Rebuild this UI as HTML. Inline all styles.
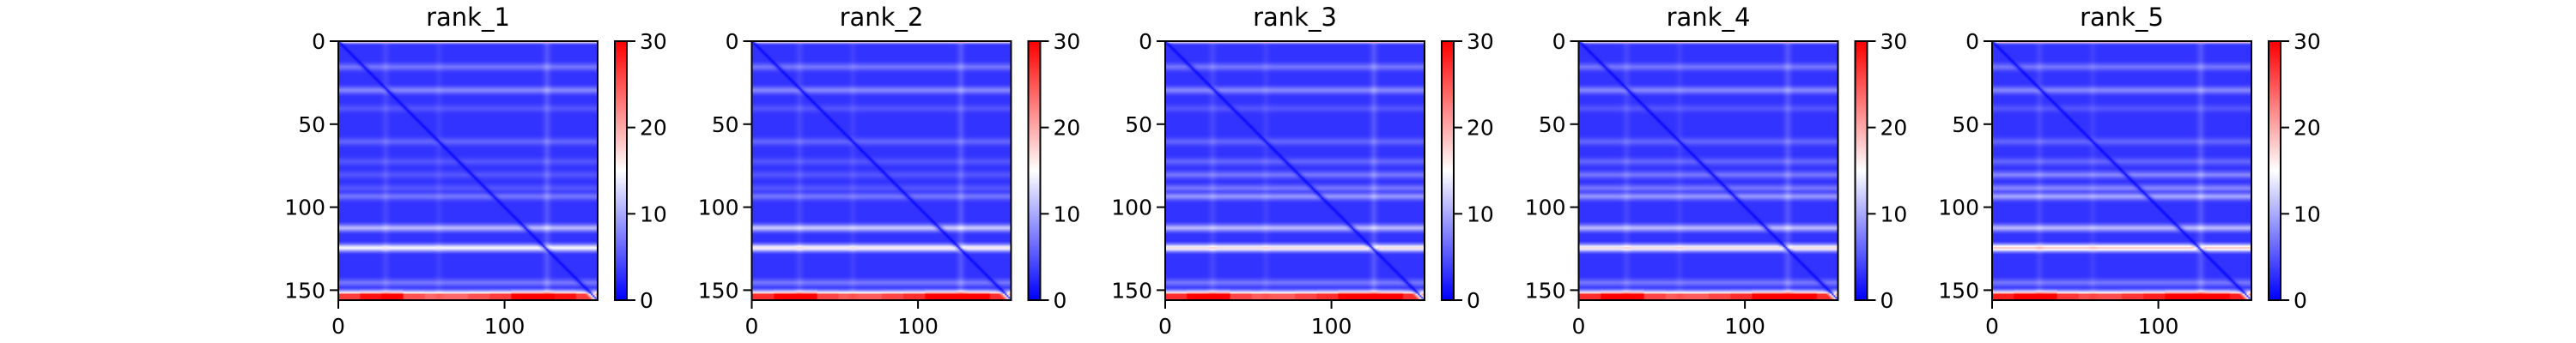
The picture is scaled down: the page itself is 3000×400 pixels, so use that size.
<!DOCTYPE html>
<html><head><meta charset="utf-8">
<style>
html,body{margin:0;padding:0;background:#fff;}
#root{position:relative;width:3000px;height:400px;overflow:hidden;font-family:"DejaVu Sans","Liberation Sans",sans-serif;}
canvas{position:absolute;}
svg{position:absolute;left:0;top:0;}
</style></head>
<body>
<div id="root">
<svg id="svg" width="3000" height="400"></svg>
</div>
<script>
// ---- data ----
const panelTitles = ["rank_1","rank_2","rank_3","rank_4","rank_5"];
const matrixSize = 156;
const xTicks = [0,100];
const yTicks = [0,50,100,150];
const cbarTicks = [0,10,20,30];
const vmin = 0, vmax = 30;
const baseValue = 3.0;
const bandRows = [0, 15, 29, 40, 60, 72, 80, 88, 93, 112, 124, 145, 154];
const bandVals1 = [14, 4, 5, 2, 3, 2, 2, 2, 4, 8, 12, 4, 26];
const bandVals2 = [14, 4, 5, 2, 3, 2, 2, 2, 4, 9, 13, 4, 27];
const bandVals3 = [14, 4, 5, 2, 3, 3, 4, 4, 6, 8, 14, 4, 27];
const bandVals4 = [14, 4, 5, 2, 3, 3, 4, 4, 6, 8, 14, 4, 27];
const bandVals5 = [15, 4, 5, 2, 3, 3, 5, 5, 7, 8, 16, 4, 28];
const colBandCols = [28, 60, 125];
const colBandVals = [1.2, 0.8, 2];
const bottomEdgeFactor = [0.9, 1.0, 1.05, 0.85, 0.8, 0.8, 0.85, 0.9, 1.05, 1.05, 1.0, 0.9];
const panelBandVals = [bandVals1, bandVals2, bandVals3, bandVals4, bandVals5];

// ---- layout ----
const ax0 = 394, axStep = 481.5, axTop = 48, axSize = 302;
const cbOff = 322, cbW = 14;
const svg = document.getElementById('svg');
const NS = 'http://www.w3.org/2000/svg';
const root = document.getElementById('root');
const bandW = [1, 0.75, 0.4, 0.15];

function xScale(v, L){ return L + v / matrixSize * axSize; }
function yScale(v){ return axTop + v / matrixSize * axSize; }
function cbScale(v){ return axTop + axSize - (v - vmin) / (vmax - vmin) * axSize; }

function bwr(v){
  let t = Math.max(0, Math.min(1, (v - vmin) / (vmax - vmin)));
  if (t < 0.5){ const s = t/0.5; return [Math.round(255*s), Math.round(255*s), 255]; }
  const s = (t-0.5)/0.5; return [255, Math.round(255*(1-s)), Math.round(255*(1-s))];
}
function mk(tag, attrs){ const e = document.createElementNS(NS, tag); for (const k in attrs) e.setAttribute(k, attrs[k]); svg.appendChild(e); return e; }

panelTitles.forEach((title, p) => {
  const L = ax0 + p*axStep;
  const vals = panelBandVals[p];
  const cv = document.createElement('canvas');
  
  
  cv.width = matrixSize; cv.height = matrixSize;
  cv.style.left = L + 'px'; cv.style.top = axTop + 'px';
  cv.style.width = axSize + 'px'; cv.style.height = axSize + 'px';
  const ctx = cv.getContext('2d');
  const img = ctx.createImageData(matrixSize, matrixSize);
  for (let i = 0; i < matrixSize; i++){
    let rowV = 0;
    bandRows.forEach((r, k) => {
      const d = Math.abs(i - r);
      let w;
      if (r >= 150) w = i >= 152 ? 1 : (i === 151 ? 0.55 : (i === 150 ? 0.3 : (i === 149 ? 0.12 : 0)));
      else if (r === 0) w = d === 0 ? 1 : (d === 1 ? 0.2 : 0);
      else w = d < bandW.length ? bandW[d] : 0;
      rowV = Math.max(rowV, vals[k] * w);
    });
    for (let j = 0; j < matrixSize; j++){
      let colV = 0;
      colBandCols.forEach((c, k) => { const d = Math.abs(j - c); if (d < bandW.length) colV = Math.max(colV, colBandVals[k]*bandW[d]); });
      let rv = rowV;
      if (i >= 149) rv *= bottomEdgeFactor[Math.min(bottomEdgeFactor.length-1, Math.floor(j / matrixSize * bottomEdgeFactor.length))];
      const dd = Math.abs(i - j);
      const near = Math.min(1, 0.35 + dd / 6);
      let v = (baseValue + colV) * Math.min(1, 0.3 + dd/3) + rv * near;
      if (dd === 0) v = 0.3;
      const c = bwr(v);
      const o = (i*matrixSize + j)*4;
      img.data[o] = c[0]; img.data[o+1] = c[1]; img.data[o+2] = c[2]; img.data[o+3] = 255;
    }
  }
  ctx.putImageData(img, 0, 0);
  root.insertBefore(cv, svg);

  const cb = document.createElement('canvas');
  
  
  cb.width = 1; cb.height = 256;
  cb.style.left = (L + cbOff) + 'px'; cb.style.top = axTop + 'px';
  cb.style.width = cbW + 'px'; cb.style.height = axSize + 'px';
  const cctx = cb.getContext('2d');
  for (let k = 0; k < 256; k++){
    const c = bwr(vmax - (k/255)*(vmax - vmin));
    cctx.fillStyle = `rgb(${c[0]},${c[1]},${c[2]})`; cctx.fillRect(0, k, 1, 1);
  }
  root.insertBefore(cb, svg);

  const fr = mk('rect', {x: L, y: axTop, width: axSize, height: axSize, fill: 'none', stroke: '#000', 'stroke-width': 2});
  
  
  const cf = mk('rect', {x: L + cbOff, y: axTop, width: cbW, height: axSize, fill: 'none', stroke: '#000', 'stroke-width': 2});
  
  

  const t = mk('text', {x: L + axSize/2, y: 30, 'text-anchor': 'middle', 'font-size': 29, fill: '#000'});
  t.textContent = title;
  
  

  yTicks.forEach(v => {
    const y = yScale(v);
    mk('line', {x1: L - 10, x2: L, y1: y, y2: y, stroke: '#000', 'stroke-width': 2});
    const lt = mk('text', {x: L - 15, y: y + 9, 'text-anchor': 'end', 'font-size': 25, fill: '#000'});
    lt.textContent = v;
    
    
  });
  xTicks.forEach(v => {
    const x = xScale(v, L);
    mk('line', {x1: x, x2: x, y1: axTop + axSize, y2: axTop + axSize + 10, stroke: '#000', 'stroke-width': 2});
    const lt = mk('text', {x: x, y: 389, 'text-anchor': 'middle', 'font-size': 25, fill: '#000'});
    lt.textContent = v;
    
    
  });
  cbarTicks.forEach(v => {
    const y = cbScale(v);
    mk('line', {x1: L + cbOff + cbW, x2: L + cbOff + cbW + 10, y1: y, y2: y, stroke: '#000', 'stroke-width': 2});
    const lt = mk('text', {x: L + cbOff + cbW + 15, y: y + 9, 'text-anchor': 'start', 'font-size': 25, fill: '#000'});
    lt.textContent = v;
    
    
  });
});
</script>
</body></html>
